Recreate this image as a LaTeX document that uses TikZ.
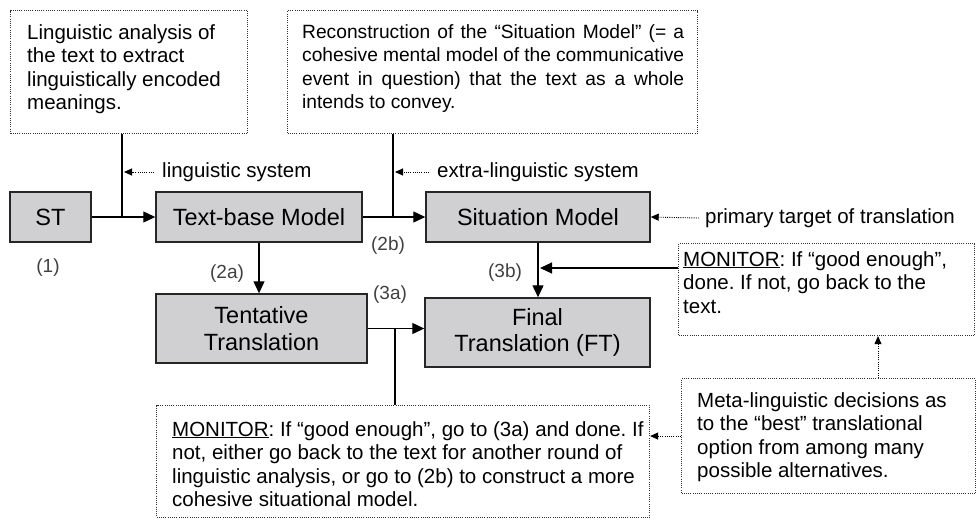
\documentclass[tikz,border=0pt]{standalone}
\usepackage{fontspec}
\setmainfont{Liberation Sans}
\usetikzlibrary{arrows.meta}
\definecolor{boxgray}{RGB}{208,208,210}
\newcommand{\jline}[1]{\makebox[382pt][s]{#1}}
\frenchspacing

\begin{document}
\begin{tikzpicture}
[x=1pt,y=-1pt,%
  model/.style={draw=black!85,fill=boxgray,line width=1.4pt,inner sep=0pt,%
    align=center,font=\fontsize{23.5}{26.5}\selectfont},%
  note/.style={draw=black!80,dash pattern=on 1pt off 1.2pt,line width=1.1pt,%
    inner sep=0pt,anchor=north west},%
  notetext/.style={inner sep=0pt,anchor=north west,align=left,%
    font=\fontsize{20.5}{23.5}\selectfont},%
  label/.style={inner sep=0pt,anchor=west,font=\fontsize{20.5}{23}\selectfont},%
  tag/.style={inner sep=0pt,text=black!75,font=\fontsize{19}{22}\selectfont},%
  arr/.style={line width=1.2pt,-{Triangle[length=12pt,width=11pt]}},%
  darr/.style={dash pattern=on 1pt off 1.2pt,line width=0.9pt,%
    -{Triangle[length=8pt,width=7pt]}}]
\useasboundingbox (0,0) rectangle (976,520);

\node[note,minimum width=237pt,minimum height=123pt] (ling) at (10,10) {};
\node[notetext] (lingtext) at (27,24)
  {Linguistic analysis of\\the text to extract\\linguistically encoded\\meanings.};
\node[note,minimum width=410pt,minimum height=123pt] (reco) at (287,10) {};
\node[notetext,font=\fontsize{19.2}{23.5}\selectfont] (recotext) at (302,24)
  {\jline{Reconstruction of the “Situation Model” (= a}\\
   \jline{cohesive mental model of the communicative}\\
   \jline{event in question) that the text as a whole}\\
   intends to convey.};

\node[model,minimum width=81pt,minimum height=50pt] (st) at (50.5,217) {ST};
\node[model,minimum width=206pt,minimum height=50pt] (tb) at (259,217) {Text-base Model};
\node[model,minimum width=224pt,minimum height=50pt] (sm) at (538,217) {Situation Model};
\node[model,minimum width=211pt,minimum height=69pt] (tt) at (261.5,328.5)
  {Tentative\\Translation};
\node[model,minimum width=225pt,minimum height=69pt] (ft) at (537.5,332.5)
  {Final\\Translation (FT)};

\node[tag] (t1) at (48,268) {(1)};
\node[tag] (t2a) at (227,274) {(2a)};
\node[tag] (t2b) at (388,246) {(2b)};
\node[tag] (t3a) at (390,295) {(3a)};
\node[tag] (t3b) at (505,273) {(3b)};

\node[label] (lsys) at (162,172) {linguistic system};
\node[label] (esys) at (437,172) {extra-linguistic system};
\node[label] (prim) at (705,218) {primary target of translation};

\node[note,minimum width=296pt,minimum height=92pt] (mon2) at (678,243) {};
\node[notetext] (mon2text) at (683,251)
  {\underline{MONITOR}: If “good enough”,\\done. If not, go back to the\\text.};
\node[note,minimum width=294pt,minimum height=115pt] (meta) at (681,378) {};
\node[notetext] (metatext) at (697,392)
  {Meta-linguistic decisions as\\to the “best” translational\\option from among many\\possible alternatives.};
\node[note,minimum width=493pt,minimum height=112pt] (mon1) at (156,405) {};
\node[notetext] (mon1text) at (172,421)
  {\underline{MONITOR}: If “good enough”, go to (3a) and done. If\\not, either go back to the text for another round of\\linguistic analysis, or go to (2b) to construct a more\\cohesive situational model.};

\coordinate (j1) at (122,217);
\coordinate (j2) at (393,217);
\coordinate (j3) at (395,328.5);
\coordinate (k) at (540,268);
\coordinate (m) at (878,0);

\draw[line width=1.2pt] (ling.south -| j1) -- (j1);
\draw[line width=1.2pt] (reco.south -| j2) -- (j2);
\draw[arr] (st) -- (tb);
\draw[arr] (tb) -- (sm);
\draw[arr] (tb.south) -- (tb.south |- tt.north);
\draw[arr] (sm.south) -- (sm.south |- ft.north);
\draw[arr] (tt.east) -- (tt.east -| ft.west);
\draw[line width=1.2pt] (j3) -- (j3 |- mon1.north);
\draw[arr] (mon2.west |- k) -- (k);

\draw[darr] ([xshift=-8pt]lsys.west) -- ([xshift=2pt]lsys.west -| j1);
\draw[darr] ([xshift=-8pt]esys.west) -- ([xshift=2pt]esys.west -| j2);
\draw[darr] ([xshift=-6pt]prim.west) -- (sm.east);
\draw[darr] (meta.north -| m) -- (mon2.south -| m);
\draw[darr] (meta.west) -- (meta.west -| mon1.east);
\end{tikzpicture}
\end{document}
